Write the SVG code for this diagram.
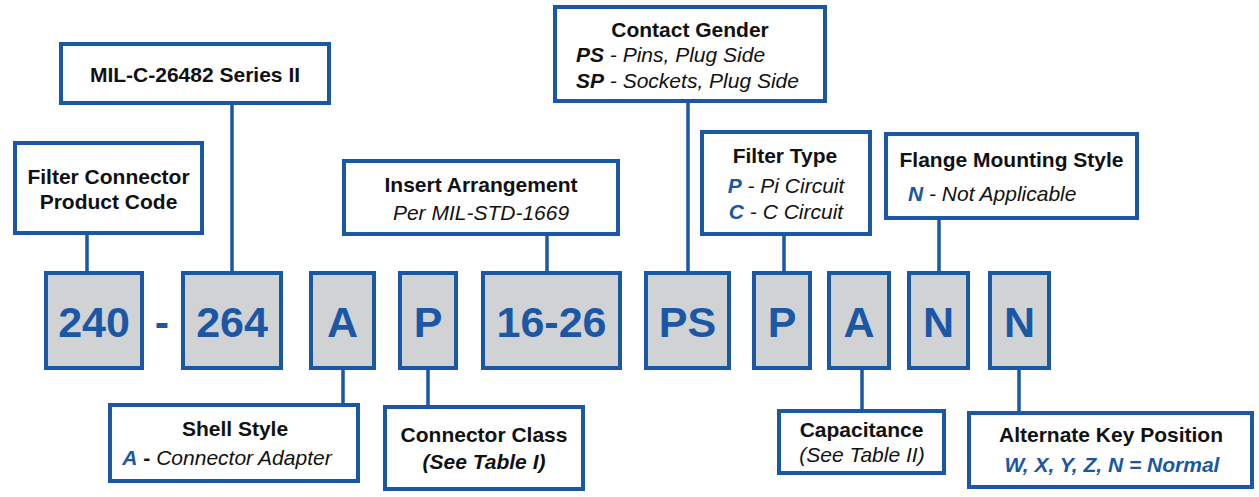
<svg xmlns="http://www.w3.org/2000/svg" width="1259" height="497" viewBox="0 0 1259 497">
<style>
.box{fill:#fff;stroke:#1a57a5;stroke-width:4}
.code{fill:#d1d2d4;stroke:#1a57a5;stroke-width:4}
.ln{stroke:#1a57a5;stroke-width:3.5;fill:none}
text{font-family:"Liberation Sans",Arial,sans-serif;font-size:21px;fill:#111}
.h{font-weight:bold;text-anchor:middle}
.i{font-style:italic}
.c{text-anchor:middle}
.bi{font-weight:bold;font-style:italic}
.blue{fill:#1a57a5}
.ct{font-weight:bold;font-size:43px;fill:#1a57a5;text-anchor:middle}
</style>
<rect width="1259" height="497" fill="#fff"/>
<g id="connectors">
<line class="ln" x1="87" y1="235" x2="87" y2="272"/>
<line class="ln" x1="232" y1="104" x2="232" y2="272"/>
<line class="ln" x1="547" y1="235" x2="547" y2="272"/>
<line class="ln" x1="688" y1="102" x2="688" y2="272"/>
<line class="ln" x1="784" y1="235" x2="784" y2="272"/>
<line class="ln" x1="939" y1="219" x2="939" y2="272"/>
<line class="ln" x1="343" y1="369" x2="343" y2="404"/>
<line class="ln" x1="428" y1="369" x2="428" y2="406"/>
<line class="ln" x1="862" y1="369" x2="862" y2="410"/>
<line class="ln" x1="1019" y1="369" x2="1019" y2="412"/>
</g>
<g id="filter-connector-product-code">
<rect class="box" x="15" y="143" width="187" height="90"/>
<text class="h" x="108.5" y="184">Filter Connector</text>
<text class="h" x="108.5" y="209">Product Code</text>
</g>
<g id="mil-series">
<rect class="box" x="61" y="44" width="268" height="59"/>
<text class="h" x="195" y="82">MIL-C-26482 Series II</text>
</g>
<g id="contact-gender">
<rect class="box" x="555" y="7" width="270" height="94"/>
<text class="h" x="690" y="37">Contact Gender</text>
<text x="576" y="62"><tspan class="bi">PS</tspan><tspan class="i"> - Pins, Plug Side</tspan></text>
<text x="576" y="88"><tspan class="bi">SP</tspan><tspan class="i"> - Sockets, Plug Side</tspan></text>
</g>
<g id="insert-arrangement">
<rect class="box" x="344" y="161" width="274" height="73"/>
<text class="h" x="481" y="192">Insert Arrangement</text>
<text class="c i" x="481" y="220">Per MIL-STD-1669</text>
</g>
<g id="filter-type">
<rect class="box" x="702" y="132" width="168" height="102"/>
<text class="h" x="785" y="163">Filter Type</text>
<text class="c" x="786" y="193"><tspan class="bi blue">P</tspan><tspan class="i"> - Pi Circuit</tspan></text>
<text class="c" x="786" y="219"><tspan class="bi blue">C</tspan><tspan class="i"> - C Circuit</tspan></text>
</g>
<g id="flange-mounting-style">
<rect class="box" x="886" y="134" width="251" height="84"/>
<text class="h" x="1011.5" y="167">Flange Mounting Style</text>
<text x="908" y="201"><tspan class="bi blue">N</tspan><tspan class="i"> - Not Applicable</tspan></text>
</g>
<g id="code-240">
<rect class="code" x="46" y="273" width="96" height="95"/>
<text class="ct" x="94" y="337">240</text>
</g>
<g id="code-dash">
<text class="ct" x="162" y="337">-</text>
</g>
<g id="code-264">
<rect class="code" x="183" y="273" width="98" height="95"/>
<text class="ct" x="232" y="337">264</text>
</g>
<g id="code-A1">
<rect class="code" x="311" y="273" width="63" height="95"/>
<text class="ct" x="342.5" y="337">A</text>
</g>
<g id="code-P1">
<rect class="code" x="400" y="273" width="56" height="95"/>
<text class="ct" x="428" y="337">P</text>
</g>
<g id="code-16-26">
<rect class="code" x="483" y="273" width="137" height="95"/>
<text class="ct" x="551.5" y="337">16-26</text>
</g>
<g id="code-PS">
<rect class="code" x="646" y="273" width="83" height="95"/>
<text class="ct" x="687.5" y="337">PS</text>
</g>
<g id="code-P2">
<rect class="code" x="754" y="273" width="56" height="95"/>
<text class="ct" x="782" y="337">P</text>
</g>
<g id="code-A2">
<rect class="code" x="829" y="273" width="60" height="95"/>
<text class="ct" x="859" y="337">A</text>
</g>
<g id="code-N1">
<rect class="code" x="909" y="273" width="59" height="95"/>
<text class="ct" x="938.5" y="337">N</text>
</g>
<g id="code-N2">
<rect class="code" x="990" y="273" width="59" height="95"/>
<text class="ct" x="1019.5" y="337">N</text>
</g>
<g id="shell-style">
<rect class="box" x="110" y="405" width="248" height="76"/>
<text class="h" x="235" y="436">Shell Style</text>
<text class="c" x="227" y="465"><tspan class="bi blue">A</tspan><tspan font-weight="bold"> - </tspan><tspan class="i">Connector Adapter</tspan></text>
</g>
<g id="connector-class">
<rect class="box" x="385" y="407" width="198" height="82"/>
<text class="h" x="484" y="442">Connector Class</text>
<text class="c bi" x="484" y="469">(See Table I)</text>
</g>
<g id="capacitance">
<rect class="box" x="779" y="411" width="165" height="62"/>
<text class="h" x="861.5" y="437">Capacitance</text>
<text class="c i" x="862" y="462">(See Table II)</text>
</g>
<g id="alternate-key-position">
<rect class="box" x="969" y="413" width="283" height="74"/>
<text class="h" x="1111" y="442">Alternate Key Position</text>
<text class="c bi blue" x="1112" y="472">W, X, Y, Z, N = Normal</text>
</g>
</svg>
